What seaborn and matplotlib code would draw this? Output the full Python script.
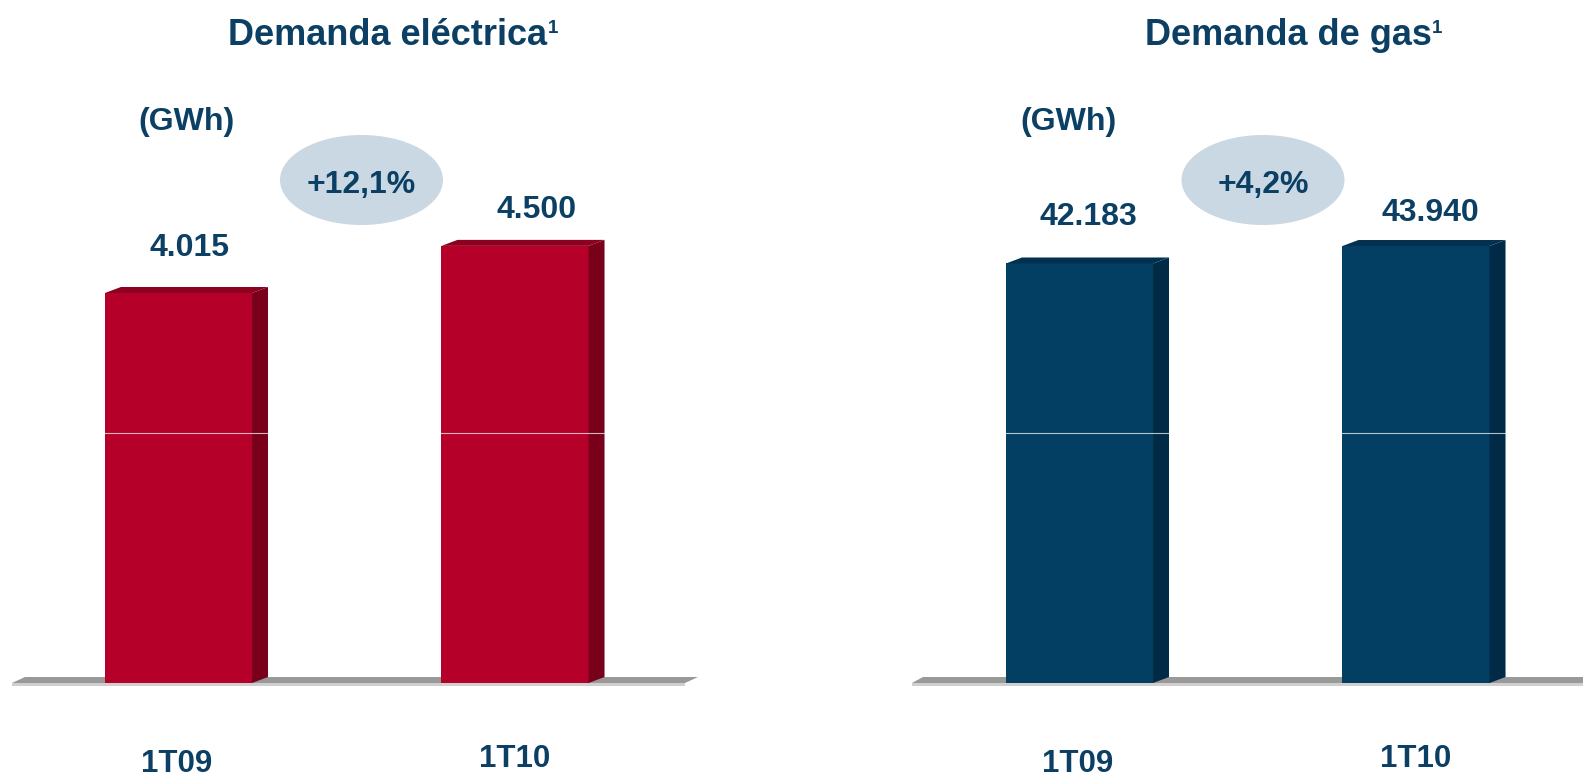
import matplotlib
matplotlib.use("Agg")
import matplotlib.pyplot as plt
import seaborn as sns
import pandas as pd
from matplotlib.patches import Polygon, Ellipse

# ---- data ----
periods = ["1T09", "1T10"]
electric_gwh = [4015, 4500]
gas_gwh = [42183, 43940]
electric_growth = "+12,1%"
gas_growth = "+4,2%"
titles = ["Demanda eléctrica", "Demanda de gas"]
footnote_mark = "1"
unit_label = "(GWh)"

# ---- style ----
sns.set_theme(style="white")
plt.rcParams["font.family"] = ["Liberation Sans", "DejaVu Sans"]
plt.rcParams["font.weight"] = "bold"

W, H = 1583, 776
TEXT = "#0b3f63"
RED = ("#b5002a", "#78001a", "#8c0020")      # front, side, top
BLUE = ("#023f63", "#002a45", "#01314f")
FLOOR = "#999999"
FLOOR_EDGE = "#cfcfcf"
BUBBLE = "#c9d8e2"
DEPTH = (16, 6)          # bar depth offset in pixels (right, up)

fig = plt.figure(figsize=(W / 100, H / 100), dpi=100)


def fx(x):
    return x / W


def fy(y):
    return 1 - y / H


def fmt(v):
    return f"{v:,}".replace(",", ".")


BASE = 683      # floor line (pixel row)
TOP = 140
panels = [
    dict(vals=electric_gwh, colors=RED, left=12, right=698, c0=178.5,
         ytop=5590, growth=electric_growth, title=titles[0], tx=388,
         unit_x=187, bubble_x=361.5, label_dx=[11, 22], label_y=[256, 218],
         floor=(12, 685, 25, 698)),
    dict(vals=gas_gwh, colors=BLUE, left=912, right=W, c0=1079.5,
         ytop=54600, growth=gas_growth, title=titles[1], tx=1288,
         unit_x=1069, bubble_x=1263, label_dx=[9, 14], label_y=[225, 221],
         floor=(912, 1600, 923, 1600)),
]
SPACING = 336.5
cat_y = [772, 767]

for p in panels:
    ax = fig.add_axes([fx(p["left"]), fy(BASE), fx(p["right"] - p["left"]),
                       (BASE - TOP) / H])
    ax.patch.set_visible(False)
    df = pd.DataFrame({"period": periods, "gwh": p["vals"]})
    sns.barplot(data=df, x="period", y="gwh", ax=ax, color=p["colors"][0],
                saturation=1, width=0.437, edgecolor="none", linewidth=0,
                zorder=2)
    ax.set_xlim((p["left"] - p["c0"]) / SPACING, (p["right"] - p["c0"]) / SPACING)
    ax.set_ylim(0, p["ytop"])
    ax.set_axis_off()

    # floor slab under the bars
    bl, br, tl, tr = p["floor"]
    fig.add_artist(Polygon([(fx(bl), fy(BASE)), (fx(br), fy(BASE)),
                            (fx(tr), fy(BASE - 6)), (fx(tl), fy(BASE - 6))],
                           closed=True, transform=fig.transFigure,
                           facecolor=FLOOR, edgecolor="none", zorder=-2))
    fig.add_artist(Polygon([(fx(bl), fy(BASE)), (fx(br), fy(BASE)),
                            (fx(br), fy(BASE + 2.5)), (fx(bl), fy(BASE + 2.5))],
                           closed=True, transform=fig.transFigure,
                           facecolor=FLOOR_EDGE, edgecolor="none", zorder=-2))

    fig.canvas.draw()
    inv = fig.transFigure.inverted()
    dxp, dyp = DEPTH
    for i, bar in enumerate(ax.patches):
        x0, w, h = bar.get_x(), bar.get_width(), bar.get_height()
        (xl, yb), (xr, yt) = ax.transData.transform([(x0, 0), (x0 + w, h)])
        side = [(xr, yb), (xr, yt), (xr + dxp, yt + dyp), (xr + dxp, yb + dyp)]
        top = [(xl, yt), (xr, yt), (xr + dxp, yt + dyp), (xl + dxp, yt + dyp)]
        for poly, col in ((side, p["colors"][1]), (top, p["colors"][2])):
            ax.add_patch(Polygon(inv.transform(poly), closed=True,
                                 transform=fig.transFigure, facecolor=col,
                                 edgecolor="none", clip_on=False, zorder=2))
        # value label
        cx = ax.transData.transform((x0 + w / 2, 0))[0]
        fig.text(fx(cx + p["label_dx"][i]), fy(p["label_y"][i]), fmt(p["vals"][i]),
                 ha="center", va="baseline", fontsize=23, color=TEXT,
                 fontweight="bold")
        fig.text(fx(cx - 2 if i == 0 else cx), fy(cat_y[i]), periods[i],
                 ha="center", va="baseline", fontsize=22.5, color=TEXT,
                 fontweight="bold")

    # thin light line across the bars
    ax.axhline(p["ytop"] * (BASE - 433) / (BASE - TOP), color="white",
               lw=0.8, alpha=0.7, zorder=3)

    # titles with footnote mark, unit and growth bubble
    t = fig.text(fx(p["tx"]), fy(45), p["title"], ha="center", va="baseline",
                 fontsize=26, color=TEXT, fontweight="bold")
    fig.canvas.draw()
    ext = t.get_window_extent()
    fig.text(fx(ext.x1 + 0.5), fy(33), footnote_mark, ha="left", va="baseline",
             fontsize=13.5, color=TEXT, fontweight="bold")
    fig.text(fx(p["unit_x"]), fy(130), unit_label, ha="center", va="baseline",
             fontsize=23, color=TEXT, fontweight="bold")
    fig.add_artist(Ellipse((fx(p["bubble_x"]), fy(180)), 163 / W, 90 / H,
                           transform=fig.transFigure, facecolor=BUBBLE,
                           edgecolor="none", zorder=1))
    fig.text(fx(p["bubble_x"]), fy(193), p["growth"], ha="center",
             va="baseline", fontsize=23, color=TEXT, fontweight="bold",
             zorder=3)

fig.savefig("out.png", dpi=100, facecolor="white")
